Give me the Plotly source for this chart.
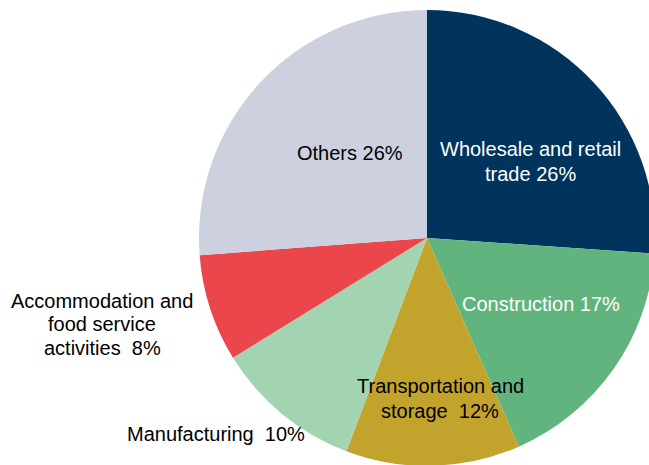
import plotly.graph_objects as go

# Data
categories = [
    "Wholesale and retail trade",
    "Construction",
    "Transportation and storage",
    "Manufacturing",
    "Accommodation and food service activities",
    "Others",
]
values = [26.1, 17.3, 12.35, 10.45, 7.6, 26.2]
pct_labels = ["26%", "17%", "12%", "10%", "8%", "26%"]

colors = ["#00345C", "#62B47E", "#C2A42C", "#A3D4B1", "#EA464B", "#CDD1DF"]

# Display text lines (line-broken versions of the categories)
display_lines = [
    ["Wholesale and retail", "trade " + pct_labels[0]],
    ["Construction " + pct_labels[1]],
    ["Transportation and", "storage\u00a0 " + pct_labels[2]],
    ["Manufacturing\u00a0 " + pct_labels[3]],
    ["Accommodation and", "food service", "activities\u00a0 " + pct_labels[4]],
    ["Others " + pct_labels[5]],
]
text_colors = ["white", "white", "black", "black", "black", "black"]

# Figure canvas larger than the window so the pie is cropped on right/bottom
W, H = 700, 500
# label block centres in pixels (x, y from top) and line spacing
label_px = [(530, 161.5), (541, 304), (440, 398.5), (216, 434), (102, 324), (350, 153)]
line_gap = [25, 25, 25, 25, 23.5, 25]

fig = go.Figure(
    go.Pie(
        labels=categories,
        values=values,
        sort=False,
        direction="clockwise",
        rotation=0,
        marker=dict(colors=colors, line=dict(width=0)),
        textinfo="none",
        hoverinfo="skip",
        showlegend=False,
        domain=dict(x=[199 / W, 655 / W], y=[1 - 466 / H, 1 - 10 / H]),
    )
)

annotations = []
for lines, col, (px, py), gap in zip(display_lines, text_colors, label_px, line_gap):
    n = len(lines)
    for i, line in enumerate(lines):
        ly = py + (i - (n - 1) / 2) * gap
        annotations.append(
            dict(
                x=px / W,
                y=1 - ly / H,
                xref="paper",
                yref="paper",
                text=line,
                showarrow=False,
                xanchor="center",
                yanchor="middle",
                align="center",
                font=dict(family="Liberation Sans, Arial, sans-serif", size=20, color=col),
            )
        )

fig.update_layout(
    width=W,
    height=H,
    autosize=False,
    margin=dict(l=0, r=0, t=0, b=0),
    paper_bgcolor="white",
    plot_bgcolor="white",
    annotations=annotations,
)

fig.write_html(
    "out.html",
    config={"displayModeBar": False},
    post_script="document.body.style.margin='0';document.body.style.overflow='hidden';",
)
